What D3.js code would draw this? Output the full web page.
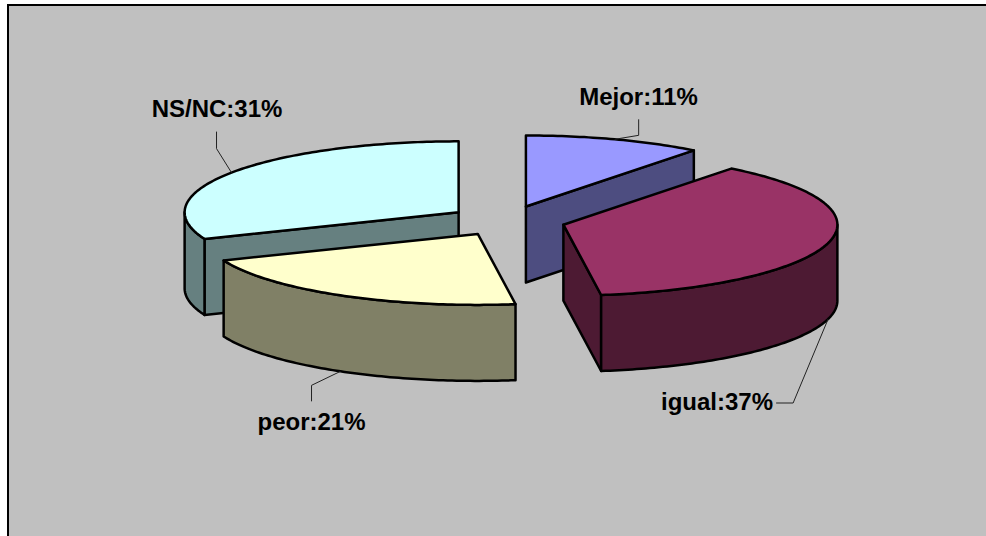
<!DOCTYPE html>
<html>
<head>
<meta charset="utf-8">
<style>html,body{margin:0;padding:0;background:#fff;overflow:hidden}svg{display:block}</style>
<script src="https://cdnjs.cloudflare.com/ajax/libs/d3/7.8.5/d3.min.js"></script>
</head>
<body>
<script>
const categories = ["Mejor", "igual", "peor", "NS/NC"];
const values = [10.5, 37.3, 21.1, 31.1];
const percentLabels = ["11%", "37%", "21%", "31%"];
const topColors = ["#9999FF", "#993366", "#FFFFCC", "#CCFFFF"];
const sideColors = ["#4D4D80", "#4D1A33", "#808066", "#668080"];

const W = 986, H = 536;
const cx = 507, cy = 220.8, rx = 274, ry = 71, depth = 76, explode = 0.213;
const drawOrder = [3, 0, 2, 1];
// leader offsets from the rim anchor, then label placement
const leaders = [
  {elbow:[24,-4], end:[0,-16], lx:638.5, ly:105, bottom:false},
  {elbow:[-35,84], end:[-17,0], lx:717, ly:410, bottom:true},
  {elbow:[-29,14], end:[0,16], lx:311.5, ly:430, bottom:true},
  {elbow:[-15,-24], end:[0,-17], lx:217, ly:117, bottom:false}
];

const svg = d3.select("body").append("svg").attr("width", W).attr("height", H);
svg.append("rect").attr("width", W).attr("height", H).attr("fill", "#fff");
svg.append("rect").attr("x", 8).attr("y", 5).attr("width", W + 20).attr("height", H + 20)
  .attr("fill", "#C0C0C0").attr("stroke", "#000").attr("stroke-width", 2);

const pie = d3.pie().sort(null).value(d => d)(values);
const sx = d3.scaleLinear().domain([-1, 1]).range([-rx, rx]);
const sy = d3.scaleLinear().domain([-1, 1]).range([-ry, ry]);
const line = d3.line().x(d => d[0]).y(d => d[1]);

function apex(p) {
  const m = (p.startAngle + p.endAngle) / 2;
  return [cx + explode * sx(Math.sin(m)), cy + explode * sy(-Math.cos(m))];
}
function rim(c, a, dz = 0) { return [c[0] + sx(Math.sin(a)), c[1] + sy(-Math.cos(a)) + dz]; }
function rimPts(c, a0, a1, dz = 0) {
  const n = Math.max(2, Math.ceil((a1 - a0) * 60));
  return d3.range(n + 1).map(i => rim(c, a0 + (a1 - a0) * i / n, dz));
}
const g = svg.append("g");
function face(pts, fill) {
  g.append("path").attr("d", line(pts) + "Z").attr("fill", fill)
    .attr("stroke", "#000").attr("stroke-width", 2.5).attr("stroke-linejoin", "round");
}

drawOrder.forEach(i => {
  const p = pie[i], c = apex(p), a0 = p.startAngle, a1 = p.endAngle;
  const down = q => [q[0], q[1] + depth];
  if (Math.sin(a1) > 0) {
    const e = rim(c, a1);
    face([c, e, down(e), down(c)], sideColors[i]);
  }
  if (Math.sin(a0) < 0) {
    const s = rim(c, a0);
    face([c, s, down(s), down(c)], sideColors[i]);
  }
  const v0 = Math.max(a0, Math.PI / 2), v1 = Math.min(a1, 3 * Math.PI / 2);
  if (v1 > v0) {
    const upper = rimPts(c, v0, v1), lower = rimPts(c, v0, v1, depth).reverse();
    face(upper.concat(lower), sideColors[i]);
  }
  face([c].concat(rimPts(c, a0, a1)), topColors[i]);
});

pie.forEach((p, i) => {
  const c = apex(p), m = (p.startAngle + p.endAngle) / 2, L = leaders[i];
  const a = rim(c, m, L.bottom ? depth : 0);
  const b = [a[0] + L.elbow[0], a[1] + L.elbow[1]];
  const e = [b[0] + L.end[0], b[1] + L.end[1]];
  svg.append("path").attr("d", line([a, b, e])).attr("fill", "none")
    .attr("stroke", "#222").attr("stroke-width", 1);
  svg.append("text").attr("x", L.lx).attr("y", L.ly).attr("text-anchor", "middle")
    .attr("font-family", "'Liberation Sans', Arial, sans-serif")
    .attr("font-weight", "bold").attr("font-size", 24).attr("fill", "#000")
    .text(categories[i] + ":" + percentLabels[i]);
});
</script>
</body>
</html>
